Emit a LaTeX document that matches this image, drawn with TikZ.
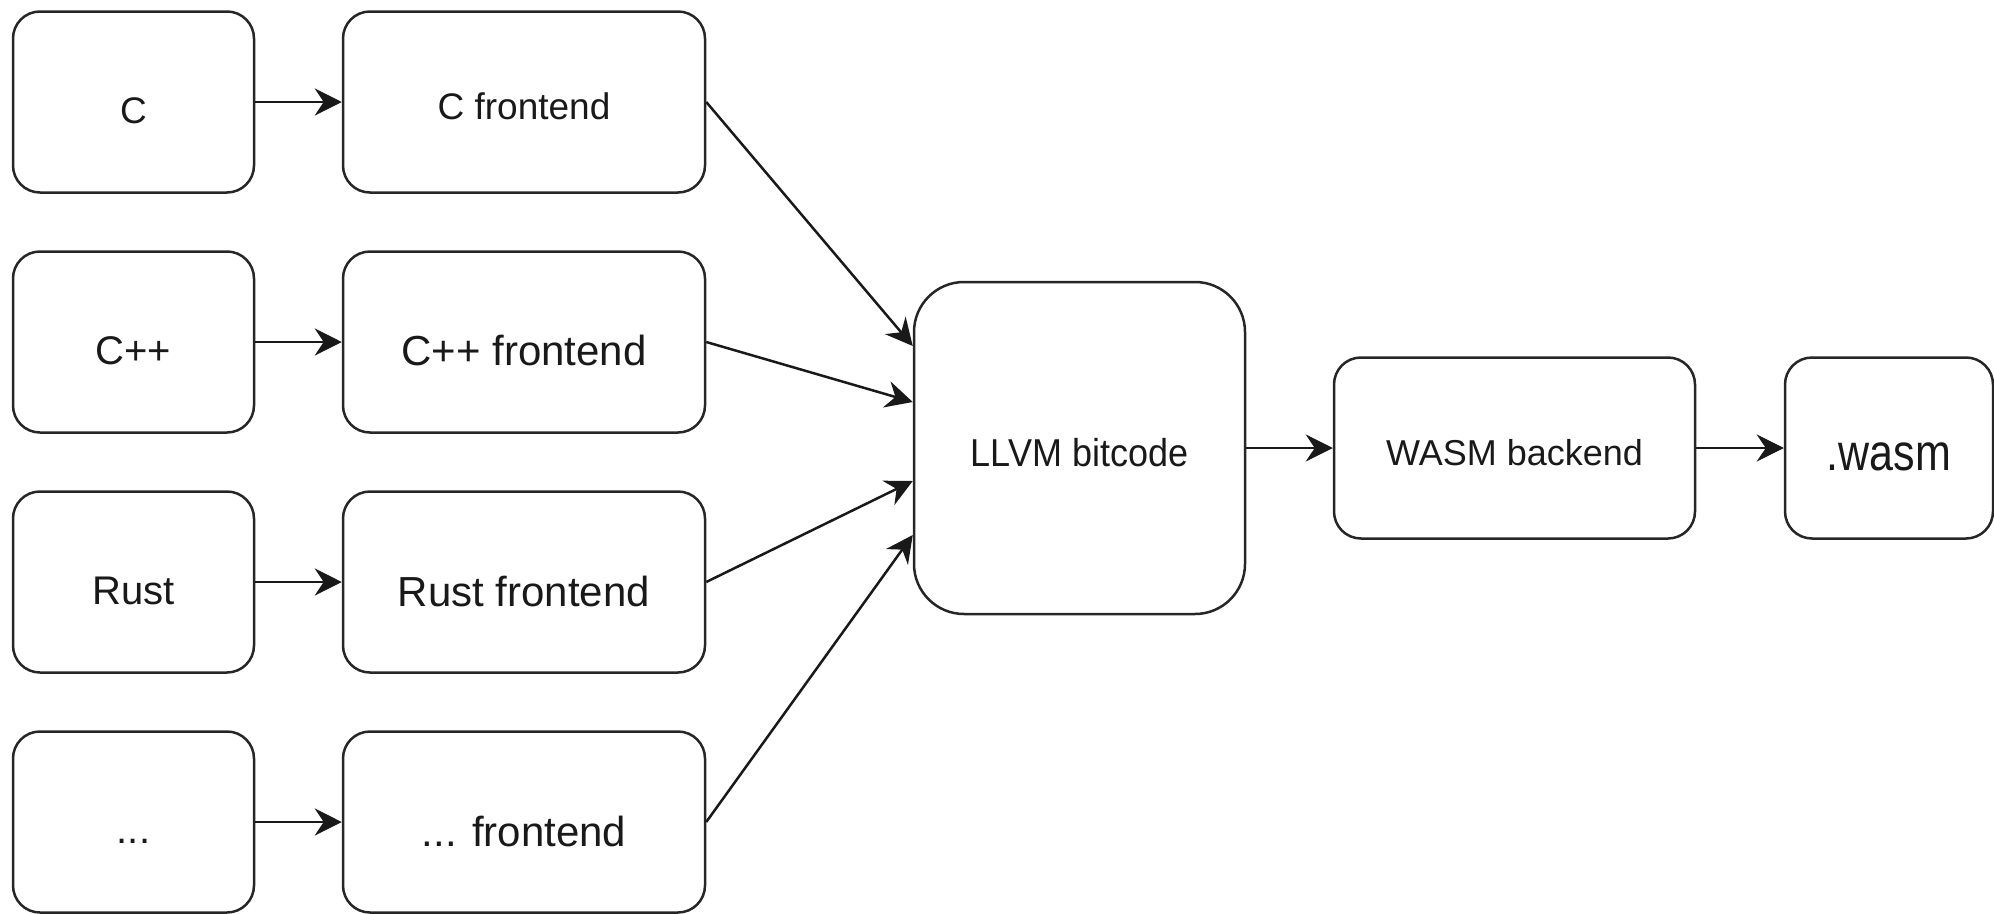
\documentclass[tikz,border=0pt]{standalone}
\usepackage{fontspec}
\setmainfont{Liberation Sans}
\usetikzlibrary{arrows.meta}
\newcommand{\fsz}[1]{\fontsize{#1pt}{#1pt}\selectfont}
% set a label with its baseline #1 below the node centre
\newcommand{\lowered}[2]{\raisebox{-#1}[0pt][0pt]{#2}}
\tikzset{
  box/.style={draw=black!85, line width=2.5pt, rounded corners=27pt,
    minimum height=181pt, inner sep=0pt, align=center, text=black!90},
  srcbox/.style={box, minimum width=241pt},
  febox/.style={box, minimum width=362pt},
  link/.style={line width=2.5pt, draw=black!90,
    -{Stealth[length=27pt,width=27pt,inset=9pt]}},
}
\begin{document}
\begin{tikzpicture}[x=1pt, y=-1pt]
  \useasboundingbox (0,0) rectangle (1994,913);

  % source languages
  \node[srcbox, font=\fsz{37}] (c)    at (133.5,102) {\lowered{21pt}{C}};
  \node[srcbox, font=\fsz{40}] (cpp)  at (133.5,342) {\lowered{22pt}{C++}};
  \node[srcbox, font=\fsz{40}] (rust) at (133.5,582) {\lowered{22pt}{Rust}};
  \node[srcbox, font=\fsz{40}] (etc)  at (133.5,822) {\lowered{21pt}{...}};

  % frontends
  \node[febox, font=\fsz{37}] (cfe)    at (524,102) {\lowered{17pt}{C frontend}};
  \node[febox, font=\fsz{42}] (cppfe)  at (524,342) {\lowered{23pt}{C++ frontend}};
  \node[febox, font=\fsz{42}] (rustfe) at (524,582) {\lowered{24pt}{Rust frontend}};
  \node[febox, font=\fsz{42}] (etcfe)  at (524,822) {\lowered{24pt}{... frontend}};

  % shared IR and backend
  \node[box, rounded corners=50pt, minimum width=331pt, minimum height=332pt,
        font=\fsz{36}] (llvm) at (1079.5,448)
        {\lowered{18pt}{\scalebox{1}[1.08]{LLVM bitcode}}};
  \node[box, minimum width=361pt, font=\fsz{36}] (wasmbe) at (1514.5,448)
        {\lowered{17pt}{WASM backend}};
  \node[box, minimum width=208pt, font=\fsz{43}] (wasm) at (1889,448)
        {\lowered{22pt}{\scalebox{1}[1.2]{.wasm}}};

  % entry points on the left side of the IR box
  \coordinate (in1) at (llvm.west |- 0,346);
  \coordinate (in2) at (llvm.west |- 0,402);
  \coordinate (in3) at (llvm.west |- 0,481);
  \coordinate (in4) at (llvm.west |- 0,535);

  \draw[link] (c.east) -- (cfe.west);
  \draw[link] (cpp.east) -- (cppfe.west);
  \draw[link] (rust.east) -- (rustfe.west);
  \draw[link] (etc.east) -- (etcfe.west);

  \draw[link] (cfe.east) -- (in1);
  \draw[link] (cppfe.east) -- (in2);
  \draw[link] (rustfe.east) -- (in3);
  \draw[link] (etcfe.east) -- (in4);

  \draw[link] (llvm.east) -- (wasmbe.west);
  \draw[link] (wasmbe.east) -- (wasm.west);
\end{tikzpicture}
\end{document}
